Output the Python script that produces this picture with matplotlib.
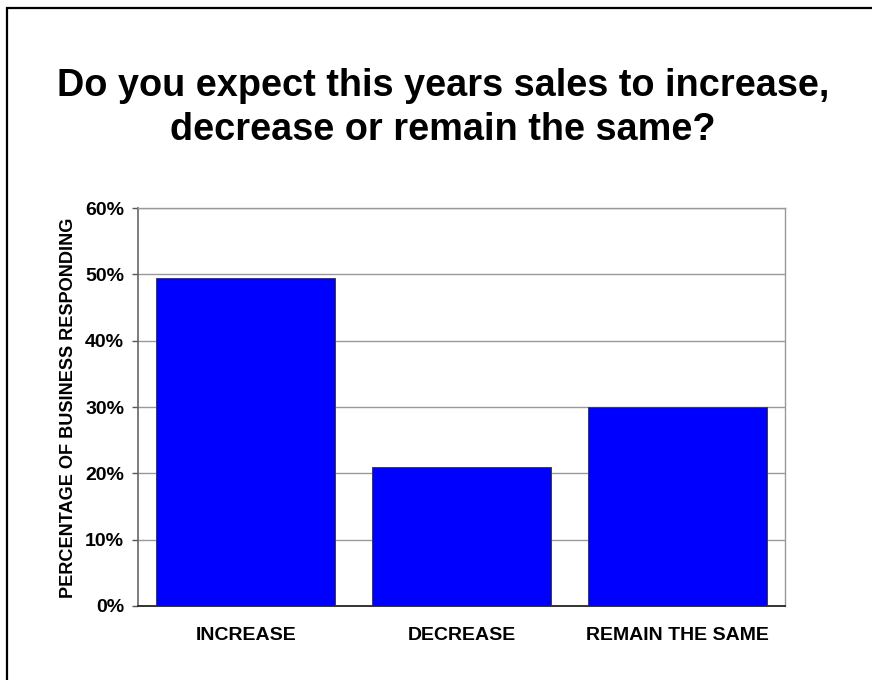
import matplotlib
matplotlib.use("Agg")
import matplotlib.pyplot as plt
from matplotlib.patches import Rectangle
from matplotlib.ticker import FuncFormatter

plt.rcParams['font.family'] = ['Liberation Sans', 'DejaVu Sans']
plt.rcParams['font.weight'] = 'bold'

categories = ["INCREASE", "DECREASE", "REMAIN THE SAME"]
percent = [49.5, 21.0, 30.0]
yticks = [0, 10, 20, 30, 40, 50, 60]

fig = plt.figure(figsize=(8.72, 6.8), dpi=100)
ax = fig.add_axes([138/872, 1 - 606/680, 647/872, 398/680])

# outer frame (left and top edges show)
fig.patches.append(Rectangle((6.5/872, -0.2), 2.0, 1.2 - 7.5/680,
                             transform=fig.transFigure, fill=False,
                             edgecolor='black', linewidth=1.6, clip_on=False))

x = range(len(categories))
ax.bar(x, percent, width=0.83, color='#0000FF', edgecolor='#404040',
       linewidth=0.7, zorder=3)

ax.set_xlim(-0.5, 2.5)
ax.set_ylim(0, 60)
ax.set_yticks(yticks)
ax.yaxis.set_major_formatter(FuncFormatter(lambda v, p: f"{v:.0f}%"))
ax.set_xticks(list(x))
ax.set_xticklabels(categories)
ax.grid(axis='y', color='#999999', linewidth=1.0, zorder=0)
ax.set_axisbelow(True)

ax.tick_params(axis='y', length=4, width=1.0, color='#555555', pad=6,
               labelsize=14)
ax.tick_params(axis='x', length=0, pad=15, labelsize=14)
for s in ['top', 'right']:
    ax.spines[s].set_color('#999999')
    ax.spines[s].set_linewidth(1.0)
ax.spines['left'].set_color('#666666')
ax.spines['bottom'].set_color('#333333')
ax.spines['left'].set_linewidth(1.2)
ax.spines['bottom'].set_linewidth(1.4)

fig.text(69/872, 1 - 408/680, "PERCENTAGE OF BUSINESS RESPONDING",
         rotation=90, ha='center', va='center', fontsize=13.1,
         fontweight='bold')

fig.text(443/872, 1 - 108/680,
         "Do you expect this years sales to increase,\ndecrease or remain the same?",
         ha='center', va='center', fontsize=27.3, fontweight='bold',
         linespacing=1.25)

fig.savefig("out.png", dpi=100)
